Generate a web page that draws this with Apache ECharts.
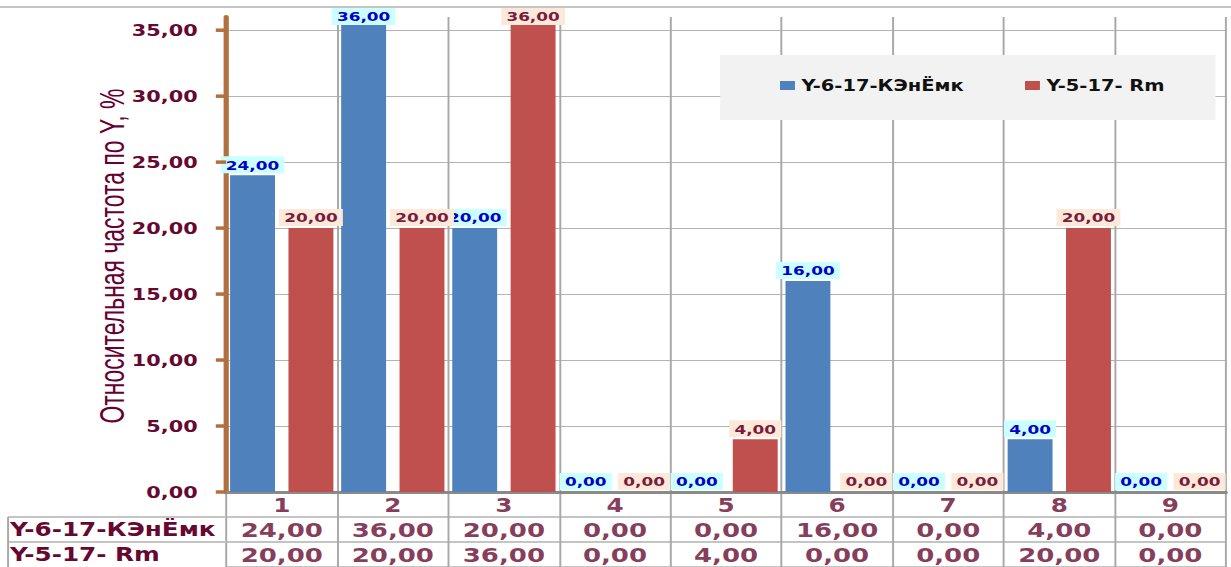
<!DOCTYPE html>
<html>
<head>
<meta charset="utf-8">
<script src="https://cdn.jsdelivr.net/npm/echarts@6/dist/echarts.min.js"></script>
<style>
html, body { margin: 0; padding: 0; background: #fff; overflow: hidden; }
/* the source picture is stretched sideways, so the chart is drawn narrower and scaled */
#chart { width: 947px; height: 567px; transform: scaleX(1.3); transform-origin: 0 0; }
</style>
</head>
<body>
<div id="chart"></div>
<script>
const categories = ['1', '2', '3', '4', '5', '6', '7', '8', '9'];
const seriesNames = ['Y-6-17-КЭнЁмк', 'Y-5-17- Rm'];
const seriesA = [24, 36, 20, 0, 0, 16, 0, 4, 0];
const seriesB = [20, 20, 36, 0, 4, 0, 0, 20, 0];
const yTicks = [0, 5, 10, 15, 20, 25, 30, 35];
const yAxisTitle = 'Относительная частота по Y, %';

const maroon = '#660830';
const tickColor = '#b07040';
const fmt = function (v) { return v.toFixed(2).replace('.', ','); };

// table grid: header row with category numbers, then one row per series
const tableRows = ['', seriesNames[0], seriesNames[1]];
const tableCells = [];
categories.forEach(function (c, i) {
    tableCells.push({ value: [i, 0, c], label: { fontSize: 19, offset: [0, 1] } });
    tableCells.push({ value: [i, 1, fmt(seriesA[i])] });
    tableCells.push({ value: [i, 2, fmt(seriesB[i])] });
});

// labels of the tallest bars are pushed down so they stay in the plot
function barData(values) {
    return values.map(function (v) {
        return v > 35 ? { value: v, label: { offset: [0, 10] } } : v;
    });
}

function barSeries(name, values, color, labelColor, labelBg) {
    return {
        name: name,
        type: 'bar',
        data: barData(values),
        barGap: '30%',
        barCategoryGap: '7%',
        itemStyle: { color: color },
        label: {
            show: true,
            position: 'top',
            distance: 2,
            formatter: function (p) { return fmt(p.value); },
            color: labelColor,
            backgroundColor: labelBg,
            padding: [2, 4, 1, 4],
            lineHeight: 14,
            fontFamily: 'DejaVu Sans',
            fontWeight: 'bold',
            fontSize: 13
        }
    };
}

const chart = echarts.init(document.getElementById('chart'), null, { renderer: 'svg' });

const tableTop = 492, tableHeight = 75, rowH = tableHeight / 3, tableLeft = 6.2, axisX = 174;

const graphics = [
    { type: 'line', z: 1, shape: { x1: 0, y1: 7, x2: 947, y2: 7 }, style: { stroke: '#b0b0b0', lineWidth: 1.5 } },
    { type: 'rect', z: 5, shape: { x: 554, y: 55, width: 381, height: 65 }, style: { fill: '#f2f2f2' } },
    { type: 'line', z: 1, shape: { x1: tableLeft, y1: tableTop + rowH, x2: axisX, y2: tableTop + rowH }, style: { stroke: '#c4c4c4', lineWidth: 2 } },
    { type: 'line', z: 1, shape: { x1: tableLeft, y1: tableTop + 2 * rowH, x2: axisX, y2: tableTop + 2 * rowH }, style: { stroke: '#c4c4c4', lineWidth: 2 } },
    { type: 'line', z: 1, shape: { x1: tableLeft, y1: tableTop + rowH, x2: tableLeft, y2: 567 }, style: { stroke: '#a8a8a8', lineWidth: 1.5 } },
    // axis title, condensed along its reading direction like a narrow face
    {
        type: 'text',
        z: 10,
        x: 86,
        y: 256,
        rotation: Math.PI / 2,
        scaleX: 0.85,
        style: {
            text: yAxisTitle,
            fill: '#660033',
            font: '27px "Liberation Sans", Arial, sans-serif',
            align: 'center',
            verticalAlign: 'middle'
        }
    }
];

chart.setOption({
    animation: false,
    backgroundColor: '#fff',
    grid: [
        { left: axisX, right: 4, top: 17, bottom: 75 },
        { left: axisX, right: 4, top: tableTop, height: tableHeight }
    ],
    legend: {
        data: seriesNames,
        left: 600,
        top: 78,
        padding: 0,
        icon: 'rect',
        itemWidth: 11.5,
        itemHeight: 9,
        itemGap: 47,
        z: 10,
        textStyle: { fontFamily: 'DejaVu Sans', fontWeight: 'bold', fontSize: 15, color: '#111' }
    },
    xAxis: [{
        type: 'category',
        gridIndex: 0,
        data: categories,
        axisLine: { lineStyle: { color: '#8a8a8a', width: 3 } },
        axisTick: { show: false },
        axisLabel: { show: false },
        splitLine: { show: true, interval: 0, lineStyle: { color: '#a8a8a8', width: 1.5 } }
    }, {
        type: 'category',
        gridIndex: 1,
        data: categories,
        axisLine: { show: false },
        axisTick: { show: false },
        axisLabel: { show: false },
        splitLine: { show: true, interval: 0, lineStyle: { color: '#a8a8a8', width: 1.5 } }
    }],
    yAxis: [{
        type: 'value',
        gridIndex: 0,
        min: 0,
        max: 36,
        interval: 5,
        axisLine: { show: true, lineStyle: { color: tickColor, width: 4 } },
        axisTick: { show: false },
        axisLabel: {
            formatter: fmt,
            showMaxLabel: false,
            margin: 22,
            color: maroon,
            fontFamily: 'DejaVu Sans',
            fontWeight: 'bold',
            fontSize: 16
        },
        splitLine: { show: true, showMaxLine: false, lineStyle: { color: '#b4b4b4', width: 1 } }
    }, {
        type: 'category',
        gridIndex: 1,
        data: tableRows,
        inverse: true,
        axisLine: { show: false },
        axisTick: { show: false },
        axisLabel: {
            interval: 0,
            align: 'left',
            margin: axisX - tableLeft - 1.5,
            color: maroon,
            fontFamily: 'DejaVu Sans',
            fontWeight: 'bold',
            fontSize: 19
        },
        splitLine: { show: true, interval: 0, lineStyle: { color: '#c4c4c4', width: 2 } }
    }],
    series: [
        barSeries(seriesNames[0], seriesA, '#4f81bd', '#0000c8', '#ccffff'),
        barSeries(seriesNames[1], seriesB, '#c0504d', '#7a1a3c', '#fde9d9'),
        {
            type: 'scatter',
            xAxisIndex: 1,
            yAxisIndex: 1,
            symbolSize: 0,
            silent: true,
            data: tableCells,
            label: {
                show: true,
                position: 'inside',
                formatter: function (p) { return p.value[2]; },
                color: maroon,
                fontFamily: 'DejaVu Sans',
                fontWeight: 'bold',
                fontSize: 20
            }
        }
    ]
});

// outward tick stubs on the value axis, placed through the axis scale
yTicks.forEach(function (v) {
    const y = chart.convertToPixel({ yAxisIndex: 0 }, v);
    graphics.push({
        type: 'line',
        z: 3,
        shape: { x1: axisX - 8, y1: y, x2: axisX, y2: y },
        style: { stroke: tickColor, lineWidth: 3.5 }
    });
});
chart.setOption({ graphic: graphics });

window.onresize = function () {
    chart.resize();
};
</script>
</body>
</html>
